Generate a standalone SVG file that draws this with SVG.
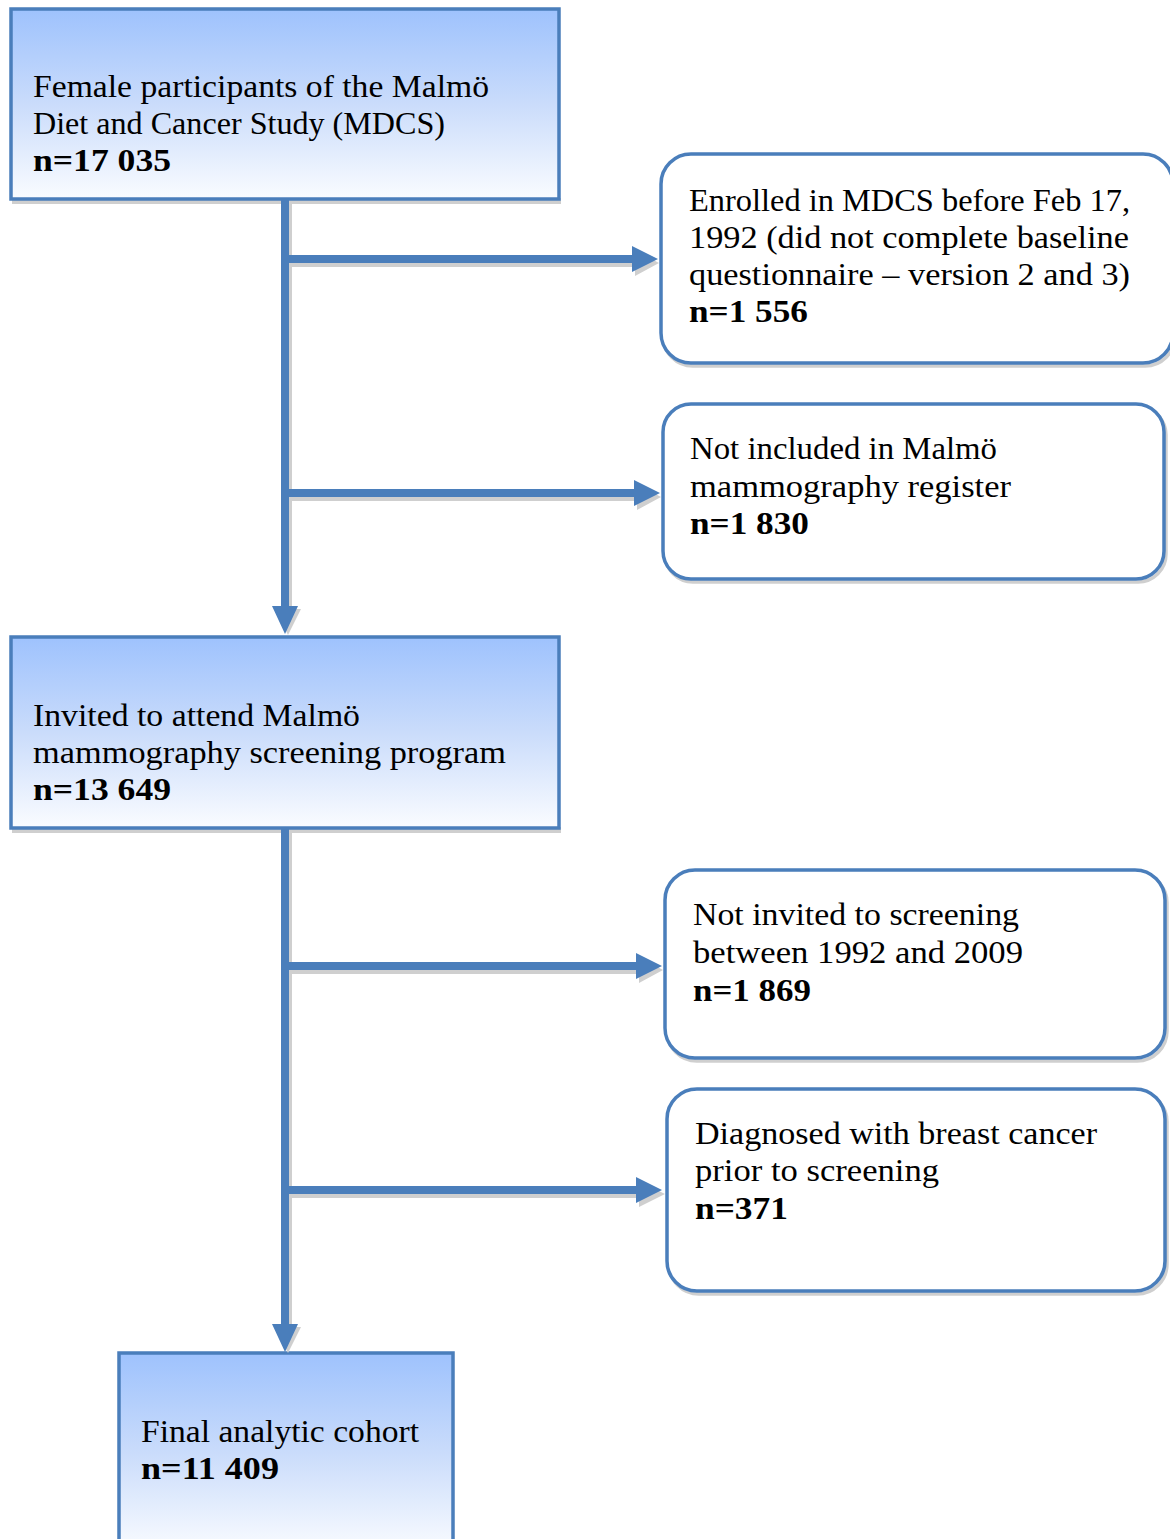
<svg xmlns="http://www.w3.org/2000/svg" width="1170" height="1539" viewBox="0 0 1170 1539">
<style>
.t{font-family:"Liberation Serif","Times New Roman",serif;font-size:32.5px;fill:#000}
.b{font-weight:bold}
.sq{fill:url(#g);stroke:#4a7ebb;stroke-width:3.5}
.rd{fill:#fff;stroke:#4a7ebb;stroke-width:3.5}
.sh{fill:#cfcfcf;stroke:none}
.shl{fill:none;stroke:#cfcfcf;stroke-width:3.5}
.ar{fill:#4a7ebb}
</style>
<defs>
<linearGradient id="g" x1="0" y1="0" x2="0" y2="1">
<stop offset="0" stop-color="#9ec2fd"/>
<stop offset="0.5" stop-color="#cadcfb"/>
<stop offset="1" stop-color="#fafcff"/>
</linearGradient>
</defs>
<g id="box1">
<rect class="sh" x="12" y="198" width="549" height="6"/>
<rect class="sq" x="11" y="9" width="548" height="190"/>
<text class="t" x="33" y="97" textLength="456" lengthAdjust="spacingAndGlyphs">Female participants of the Malmö</text>
<text class="t" x="33" y="134" textLength="412" lengthAdjust="spacingAndGlyphs">Diet and Cancer Study (MDCS)</text>
<text class="t b" x="33" y="171" textLength="138" lengthAdjust="spacingAndGlyphs">n=17 035</text>
</g>
<g id="box2">
<rect class="shl" x="663" y="157" width="512" height="209" rx="30"/>
<rect class="rd" x="661" y="154" width="512" height="209" rx="30"/>
<text class="t" x="689" y="211" textLength="441" lengthAdjust="spacingAndGlyphs">Enrolled in MDCS before Feb 17,</text>
<text class="t" x="689" y="248" textLength="440" lengthAdjust="spacingAndGlyphs">1992 (did not complete baseline</text>
<text class="t" x="689" y="285" textLength="441" lengthAdjust="spacingAndGlyphs">questionnaire – version 2 and 3)</text>
<text class="t b" x="689" y="322" textLength="119" lengthAdjust="spacingAndGlyphs">n=1 556</text>
</g>
<g id="box3">
<rect class="shl" x="665" y="407" width="501" height="175" rx="28"/>
<rect class="rd" x="663" y="404" width="501" height="175" rx="28"/>
<text class="t" x="690" y="459" textLength="307" lengthAdjust="spacingAndGlyphs">Not included in Malmö</text>
<text class="t" x="690" y="497" textLength="321" lengthAdjust="spacingAndGlyphs">mammography register</text>
<text class="t b" x="690" y="534" textLength="119" lengthAdjust="spacingAndGlyphs">n=1 830</text>
</g>
<g id="box4">
<rect class="sh" x="12" y="827" width="549" height="6"/>
<rect class="sq" x="11" y="637" width="548" height="191"/>
<text class="t" x="33" y="726" textLength="327" lengthAdjust="spacingAndGlyphs">Invited to attend Malmö</text>
<text class="t" x="33" y="763" textLength="473" lengthAdjust="spacingAndGlyphs">mammography screening program</text>
<text class="t b" x="33" y="800" textLength="138" lengthAdjust="spacingAndGlyphs">n=13 649</text>
</g>
<g id="box5">
<rect class="shl" x="667" y="873" width="500" height="188" rx="30"/>
<rect class="rd" x="665" y="870" width="500" height="188" rx="30"/>
<text class="t" x="693" y="925" textLength="326" lengthAdjust="spacingAndGlyphs">Not invited to screening</text>
<text class="t" x="693" y="963" textLength="330" lengthAdjust="spacingAndGlyphs">between 1992 and 2009</text>
<text class="t b" x="693" y="1001" textLength="118" lengthAdjust="spacingAndGlyphs">n=1 869</text>
</g>
<g id="box6">
<rect class="shl" x="669" y="1092" width="498" height="202" rx="30"/>
<rect class="rd" x="667" y="1089" width="498" height="202" rx="30"/>
<text class="t" x="695" y="1144" textLength="402" lengthAdjust="spacingAndGlyphs">Diagnosed with breast cancer</text>
<text class="t" x="695" y="1181" textLength="244" lengthAdjust="spacingAndGlyphs">prior to screening</text>
<text class="t b" x="695" y="1219" textLength="93" lengthAdjust="spacingAndGlyphs">n=371</text>
</g>
<g id="box7">
<rect class="sq" x="119" y="1353" width="334" height="200"/>
<text class="t" x="141" y="1442" textLength="278" lengthAdjust="spacingAndGlyphs">Final analytic cohort</text>
<text class="t b" x="141" y="1479" textLength="138" lengthAdjust="spacingAndGlyphs">n=11 409</text>
</g>
<g id="connectors">
<polygon class="sh" points="284,204 292,204 292,609 301,609 288,635 275,609 284,609"/>
<polygon class="ar" points="281,199 289,199 289,606 298,606 285,634 272,606 281,606"/>
<polygon class="sh" points="292,259 635,259 635,250 659,263 635,276 635,267 292,267"/>
<polygon class="ar" points="289,255 632,255 632,246 658,259 632,272 632,263 289,263"/>
<polygon class="sh" points="292,493 637,493 637,484 661,497 637,510 637,501 292,501"/>
<polygon class="ar" points="289,489 634,489 634,480 660,493 634,506 634,497 289,497"/>
<polygon class="sh" points="284,833 292,833 292,1327 301,1327 288,1353 275,1327 284,1327"/>
<polygon class="ar" points="281,828 289,828 289,1324 298,1324 285,1352 272,1324 281,1324"/>
<polygon class="sh" points="292,966 639,966 639,957 663,970 639,983 639,974 292,974"/>
<polygon class="ar" points="289,962 636,962 636,953 662,966 636,979 636,970 289,970"/>
<polygon class="sh" points="292,1190 639,1190 639,1181 665,1194 639,1207 639,1198 292,1198"/>
<polygon class="ar" points="289,1186 636,1186 636,1177 662,1190 636,1203 636,1194 289,1194"/>
</g>
</svg>
